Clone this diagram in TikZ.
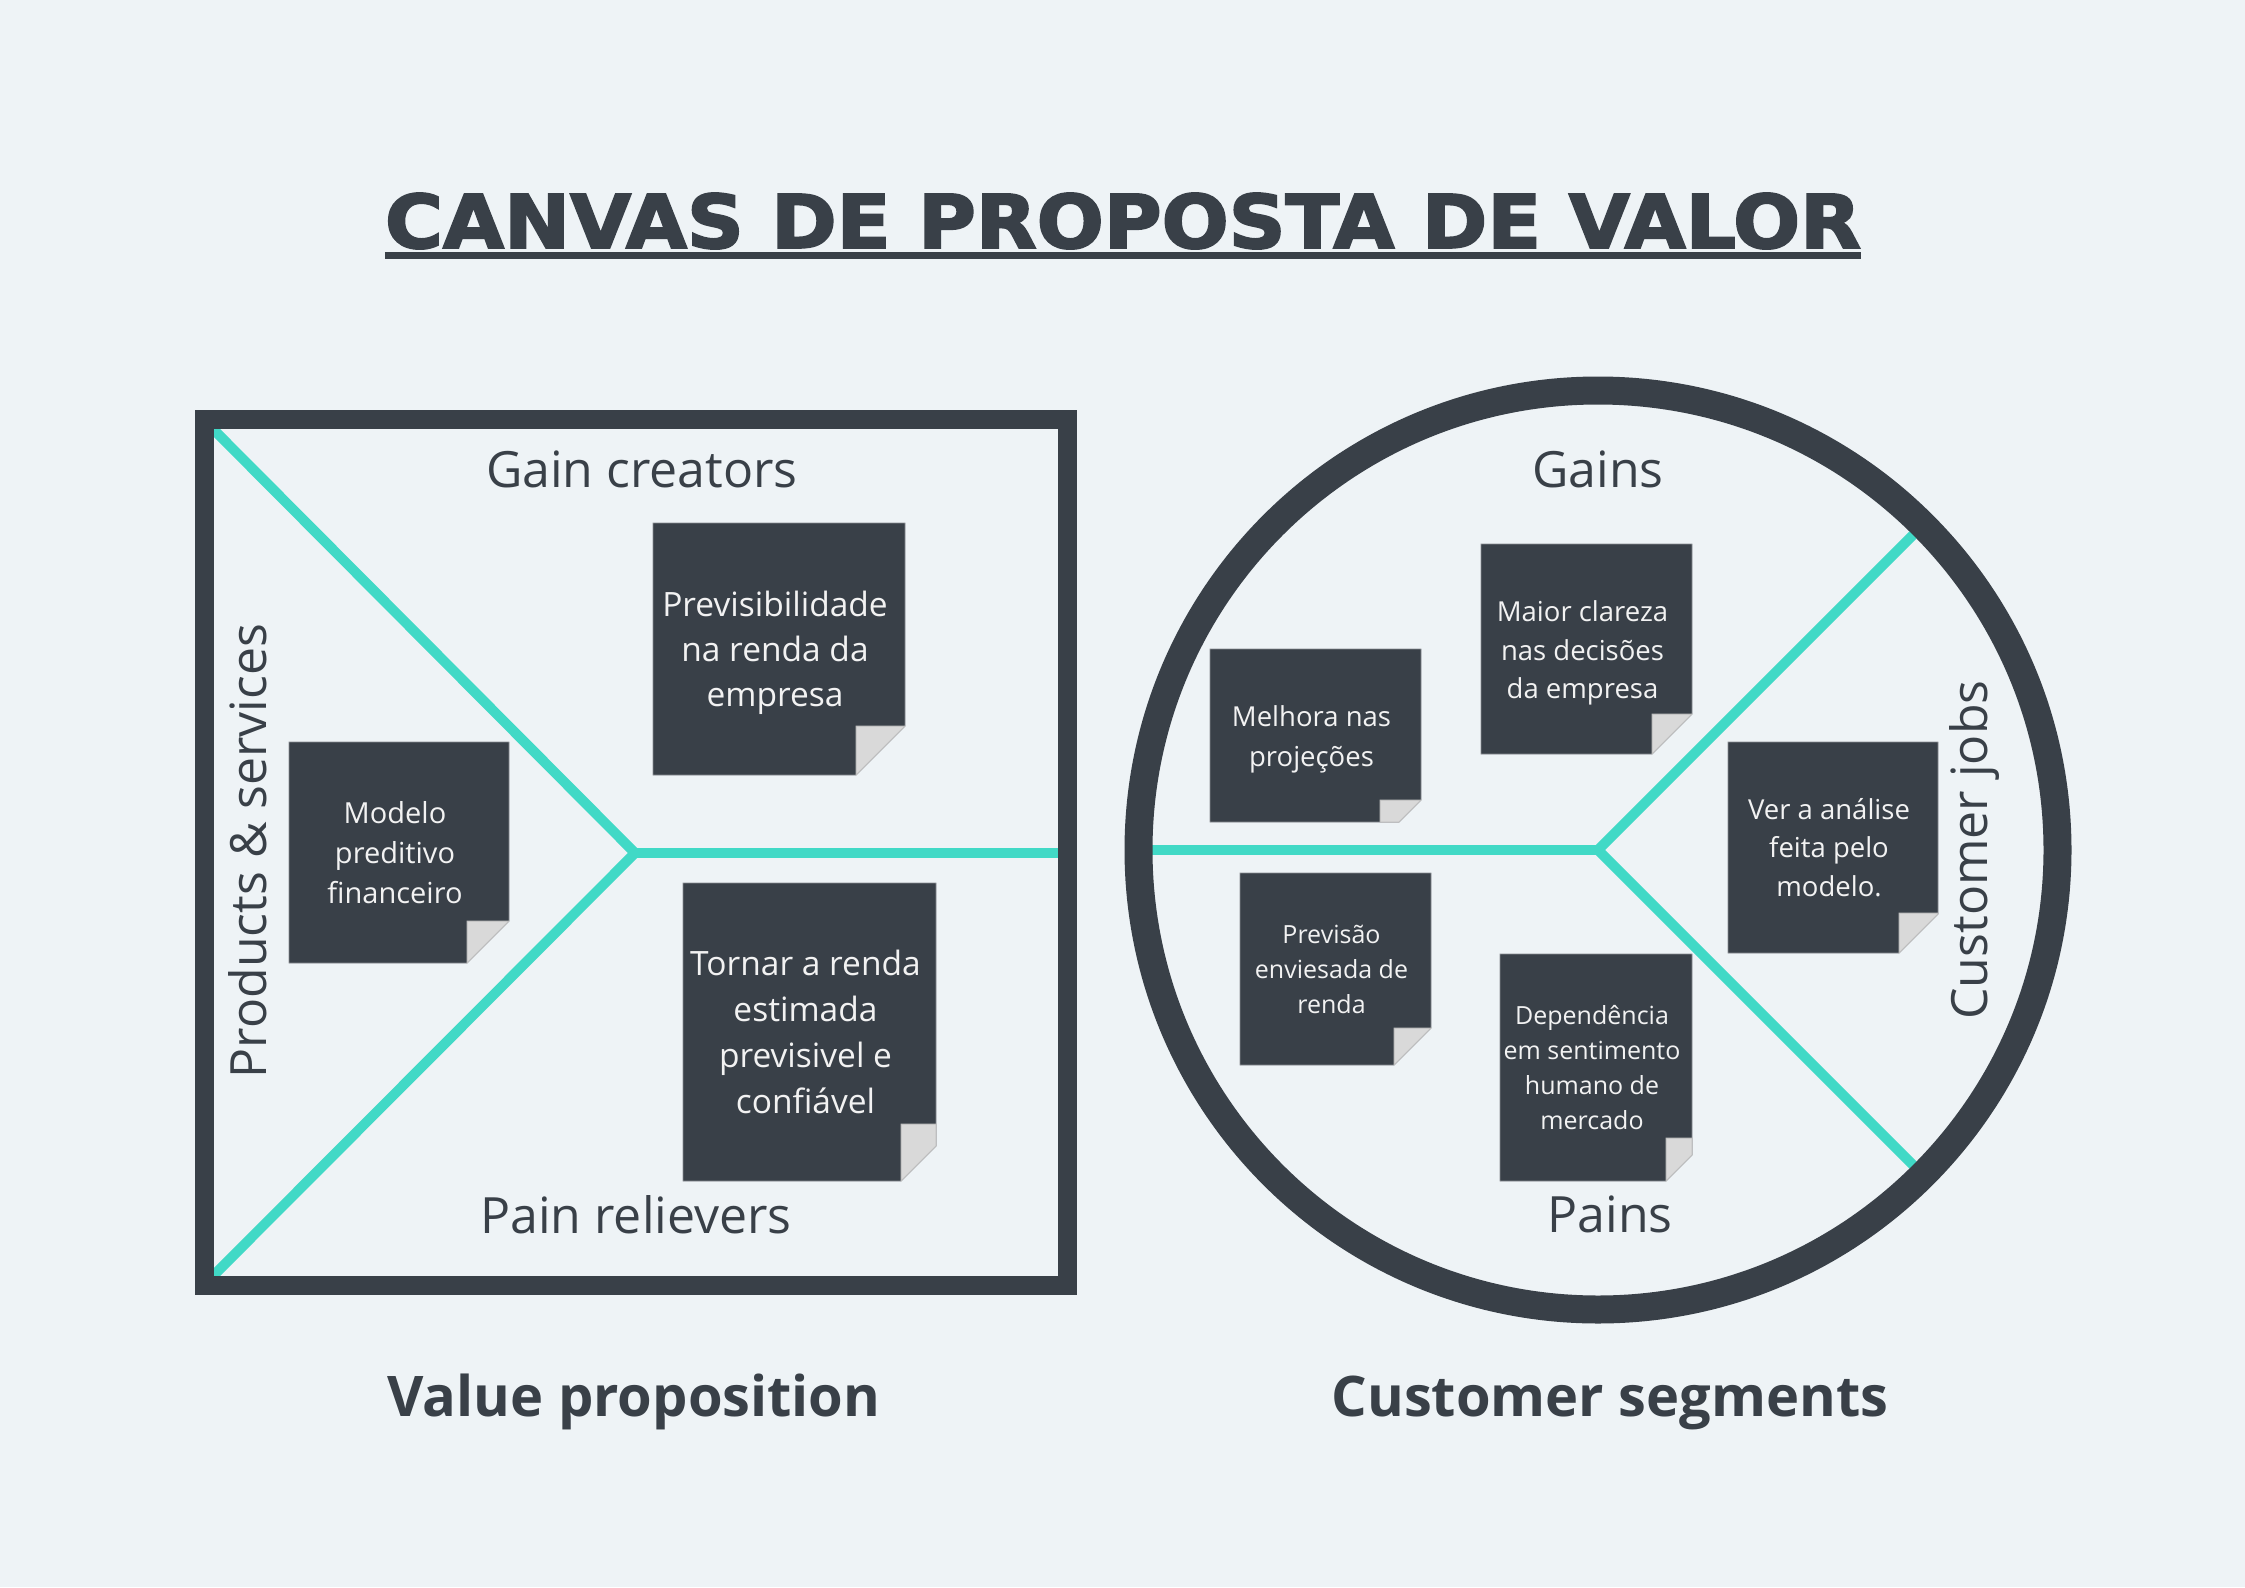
\documentclass[tikz,border=0pt]{standalone}
\usepackage{graphicx}
\usepackage{fontspec}
\setmainfont{Open Sans}
\newfontfamily\titlefont{DejaVu Sans}[BoldFeatures={FakeBold=2.5}]

\definecolor{canvasbg}{HTML}{EEF3F6}
\definecolor{slate}{HTML}{394048}
\definecolor{accent}{HTML}{41D9C6}
\definecolor{foldgrey}{HTML}{D9D9D9}
\definecolor{foldedge}{HTML}{BDBDBD}
\definecolor{notetext}{HTML}{F2F2F2}

\tikzset{
  frameline/.style={draw=slate, line width=19pt},
  ringline/.style={draw=slate, line width=28pt},
  splitline/.style={draw=accent, line width=10pt},
  notebody/.style={fill=slate, draw=slate!60!white, line width=0.8pt},
  notefold/.style={fill=foldgrey, draw=foldedge, line width=1pt},
  notelabel/.style={text=notetext, align=center, inner sep=0pt, xshift=-4pt},
  arealabel/.style={text=slate, inner sep=0pt, anchor=base, font=\fontsize{50}{60}\selectfont},
  blocklabel/.style={text=slate, inner sep=0pt, anchor=base, font=\fontsize{56}{68}\selectfont\bfseries},
}

% sticky note: name, x1, y1, x2, y2, fold width, fold height, label options, text
\newcommand{\stickynote}[9]{%
  \pgfmathsetmacro\ncut{min(#6,#7)}%
  \path[notebody] (#2,#3) -- (#4,#3) -- (#4,#5-\ncut) -- (#4-\ncut,#5) -- (#2,#5) -- cycle;
  \path[notefold] (#4-#6,#5-#7) -- (#4,#5-#7) -- (#4,#5-\ncut) -- (#4-\ncut,#5) -- (#4-#6,#5) -- cycle;
  \node[notelabel, #8] (#1) at ({(#2+#4)/2},{(#3+#5)/2}) {#9};
}

\begin{document}
\begin{tikzpicture}[x=1pt, y=-1pt]
  \useasboundingbox (0,0) rectangle (2245,1587);
  \fill[canvasbg] (0,0) rectangle (2245,1587);

  % title
  \node[inner sep=0pt, anchor=base, text=slate] (title) at (1123,248)
    {\resizebox{1476pt}{55pt}{\titlefont\bfseries CANVAS DE PROPOSTA DE VALOR}};
  \draw[slate, line width=7.3pt] ([yshift=-7.5pt]title.base west) -- ([yshift=-7.5pt]title.base east);

  % value proposition square
  \coordinate (sqTL) at (213,429);
  \coordinate (sqBL) at (213,1276);
  \coordinate (sqR)  at (1058,853);
  \coordinate (vpHub) at (635,853);
  \draw[splitline] (sqTL) -- (vpHub) -- (sqBL);
  \draw[splitline] (vpHub) -- (sqR);
  \draw[frameline] (204,419.5) rectangle (1067.5,1285);

  % customer profile circle
  \coordinate (cpHub) at (1598,850);
  \coordinate (cpL)  at (1139,850);
  \coordinate (cpUR) at (1923,525);
  \coordinate (cpLR) at (1923,1175);
  \draw[splitline] (cpL) -- (cpHub);
  \draw[splitline] (cpUR) -- (cpHub) -- (cpLR);
  \draw[ringline] (cpHub) circle[radius=459.5];

  % notes of the value proposition
  \stickynote{pvNote}{653}{523}{905}{775}{49}{49}{font=\fontsize{33.5}{45}\selectfont, yshift=-4pt}{Previsibilidade\\na renda da\\empresa}
  \stickynote{mdNote}{289}{742}{509}{963}{42}{42}{font=\fontsize{29}{40}\selectfont}{Modelo\\preditivo\\financeiro}
  \stickynote{trNote}{683}{883}{936}{1181}{35}{57}{font=\fontsize{33.5}{46}\selectfont}{Tornar a renda\\estimada\\previsivel e\\confiável}

  % notes of the customer profile
  \stickynote{mcNote}{1481}{544}{1692}{754}{40}{40}{font=\fontsize{27.5}{38.6}\selectfont, yshift=-4pt}{Maior clareza\\nas decisões\\da empresa}
  \stickynote{mhNote}{1210}{649}{1421}{822}{41}{22}{font=\fontsize{27.5}{39.5}\selectfont, yshift=-4pt}{Melhora nas\\projeções}
  \stickynote{vaNote}{1728}{742}{1938}{953}{39}{40}{font=\fontsize{27.5}{38.3}\selectfont}{Ver a análise\\feita pelo\\modelo.}
  \stickynote{psNote}{1240}{873}{1431}{1065}{37}{37}{font=\fontsize{25}{35}\selectfont}{Previsão\\enviesada de\\renda}
  \stickynote{dpNote}{1500}{954}{1692}{1181}{26}{43}{font=\fontsize{25}{35}\selectfont}{Dependência\\em sentimento\\humano de\\mercado}

  % area labels
  \node[arealabel] (gainCreators) at (642,487) {Gain creators};
  \node[arealabel] (painRelievers) at (636,1233) {Pain relievers};
  \node[arealabel, rotate=90] (products) at (266,851) {Products \& services};
  \node[arealabel] (gains) at (1598,487.5) {Gains};
  \node[arealabel] (pains) at (1610,1232) {Pains};
  \node[arealabel, rotate=90] (jobs) at (1987,850) {Customer jobs};

  % block labels
  \node[blocklabel] (valueProp) at (634,1416) {Value proposition};
  \node[blocklabel] (segments) at (1610,1416) {Customer segments};
\end{tikzpicture}
\end{document}
